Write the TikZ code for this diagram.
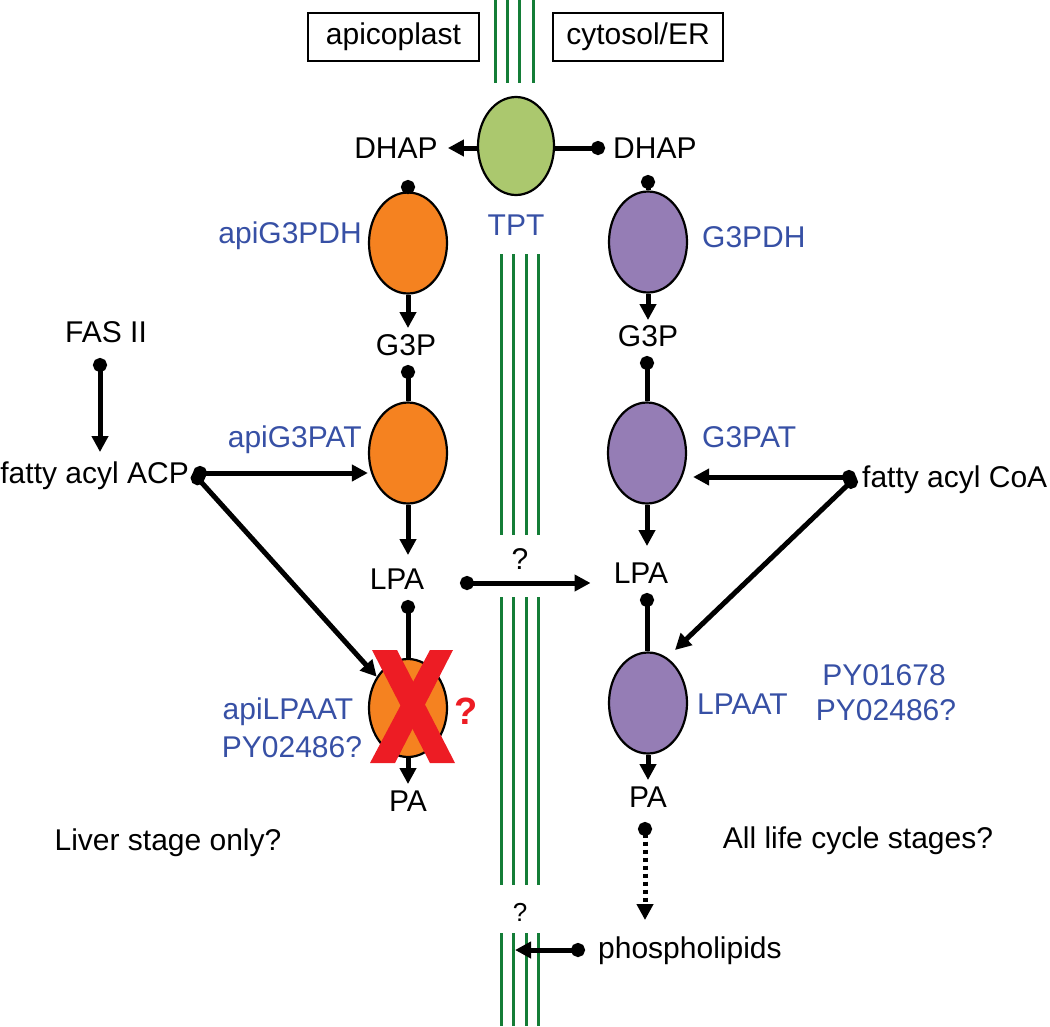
\documentclass[tikz,border=0pt]{standalone}
\usepackage{fontspec}
\setmainfont{Liberation Sans}
\usetikzlibrary{arrows.meta,shapes.geometric}
\definecolor{enzorange}{RGB}{245,130,32}
\definecolor{enzpurple}{RGB}{149,125,181}
\definecolor{tptgreen}{RGB}{171,200,110}
\definecolor{lblue}{RGB}{55,80,165}
\definecolor{mgreen}{RGB}{20,125,55}
\definecolor{xred}{RGB}{237,28,36}
\begin{document}
\begin{tikzpicture}[x=1pt,y=-1pt,
  lbl/.style={font=\fontsize{30}{34}\selectfont, inner sep=0pt, text height=21.5pt, text depth=0pt},
  blbl/.style={lbl, text=lblue},
  region/.style={draw, line width=1.8pt, font=\fontsize{30}{34}\selectfont, inner sep=0pt, minimum height=48pt, text height=21.5pt, text depth=6pt},
  enz/.style={ellipse, draw, line width=2.2pt, inner sep=0pt, minimum width=78pt, minimum height=101pt},
  memb/.style={draw=mgreen, line width=3pt},
  arr/.style={line width=5pt, -{Triangle[length=16pt,width=16pt]}},
  stem/.style={line width=5pt, {Circle[length=14pt]}-},
  darr/.style={line width=5pt, {Circle[length=14pt]}-{Triangle[length=16pt,width=16pt]}}
]
\useasboundingbox (0,0) rectangle (1050,1026);

% membranes
\foreach \x in {495,507,519,533} \draw[memb] (\x,0) -- (\x,83);
\foreach \x in {501,513,526,538} {
  \draw[memb] (\x,254) -- (\x,535);
  \draw[memb] (\x,597) -- (\x,885);
  \draw[memb] (\x,933) -- (\x,1026);
}

% compartment boxes
\node[region, minimum width=171pt] (apico) at (393.5,37) {apicoplast};
\node[region, minimum width=170pt] (cyto) at (638,37) {cytosol/ER};

% transporter
\node[enz, fill=tptgreen, minimum width=76pt, minimum height=98pt] (tpt) at (516,146) {};
\node[blbl] (tptl) at (516,225) {TPT};
\node[lbl] (dhapL) at (396,148) {DHAP};
\node[lbl, anchor=west] (dhapR) at (613,148) {DHAP};
\coordinate (dhapRdot) at (605,148);

% left (apicoplast) column
\node[enz, fill=enzorange] (e1) at (408,243) {};
\node[blbl, anchor=east] (l1) at (362,233) {apiG3PDH};
\coordinate (c1) at (408,180);
\node[lbl] (g3pL) at (406,345) {G3P};
\coordinate (c2) at (408,365);
\node[enz, fill=enzorange] (e2) at (408,453) {};
\node[blbl, anchor=east] (l2) at (362,437) {apiG3PAT};
\node[lbl] (lpaL) at (397,579) {LPA};
\coordinate (c3) at (408,600);
\node[enz, fill=enzorange, minimum height=98pt] (e3) at (408,708) {};
\node[lbl] (paL) at (408,801) {PA};
\node[blbl] (l3) at (288,709) {apiLPAAT};
\node[blbl] (l4) at (292,747) {PY02486?};

\node[lbl, anchor=east] (acp) at (189,473) {fatty acyl ACP};
\coordinate (acpdot) at (193,473);
\node[lbl] (fas) at (106,332) {FAS II};
\coordinate (fasdot) at (100,358);

% right (cytosol) column
\node[enz, fill=enzpurple] (e4) at (648,242) {};
\coordinate (c4) at (648,175);
\node[blbl, anchor=west] (r1) at (702,237) {G3PDH};
\node[lbl] (g3pR) at (648,336) {G3P};
\coordinate (c5) at (647,356);
\node[enz, fill=enzpurple] (e5) at (647,453) {};
\node[blbl, anchor=west] (r2) at (702,437) {G3PAT};
\node[lbl] (lpaR) at (641,573) {LPA};
\coordinate (c6) at (647,593);
\node[enz, fill=enzpurple] (e6) at (648,703) {};
\node[blbl, anchor=west] (r3) at (697,704) {LPAAT};
\node[blbl] (r4) at (884,675) {PY01678};
\node[blbl] (r5) at (886,710) {PY02486?};
\node[lbl] (paR) at (648,797) {PA};

\node[lbl, anchor=west] (coa) at (862,477) {fatty acyl CoA};
\coordinate (coadot) at (856,477);
\coordinate (coatip) at (675,650);

\coordinate (lpadot) at (460,583);
\node[lbl] (q1) at (520,559) {?};

\node[lbl, anchor=west] (phos) at (598,948) {phospholipids};
\coordinate (padot) at (645,822);
\coordinate (phdot) at (585,950);
\coordinate (memtip) at (515,950);
\node[lbl, font=\fontsize{26}{30}\selectfont] (q2) at (520,911) {?};

\node[lbl] (liver) at (168,840) {Liver stage only?};
\node[lbl] (allst) at (858,838) {All life cycle stages?};

% connectors
\draw[arr] (tpt.west |- dhapL.east) -- ([xshift=10pt]dhapL.east);
\draw[stem] (dhapRdot) -- (tpt.east |- dhapRdot);

\draw[stem] (c1) -- (e1.north);
\draw[arr] (e1.south) -- ([yshift=6pt]e1.south |- g3pL.north);
\draw[stem] (c2) -- (e2.north);
\draw[arr] (e2.south) -- ([yshift=13pt]e2.south |- lpaL.north);
\draw[stem] (c3) -- (e3.north);
\draw[arr] (e3.south) -- ([yshift=6pt]paL.north);

\draw[darr] (fasdot) -- ([yshift=10pt]fasdot |- acp.north);
\draw[darr] (acpdot) -- (e2.west |- acpdot);
\draw[darr] (acpdot) -- (e3.135);

\draw[stem] (c4) -- (e4.north);
\draw[arr] (e4.south) -- ([yshift=5pt]e4.south |- g3pR.north);
\draw[stem] (c5) -- (e5.north);
\draw[arr] (e5.south) -- ([yshift=16pt]e5.south |- lpaR.north);
\draw[stem] (c6) -- (c6 |- e6.north);
\draw[arr] (e6.south) -- ([yshift=6pt]e6.south |- paR.north);

\draw[darr] (coadot) -- ([xshift=6pt]e5.east |- coadot);
\draw[darr] (coadot) -- (coatip);

\draw[darr] (lpadot) -- ([xshift=-23pt]lpaR.west |- lpadot);

\draw[darr, dash pattern=on 4pt off 4pt] (padot) -- ([yshift=17pt]padot |- phos.north);
\draw[darr] (phdot) -- (memtip);

% knock-out mark
\fill[xred] (372,650) -- (397,650) -- (455,763) -- (430,763) -- cycle;
\fill[xred] (430,650) -- (453,650) -- (395,763) -- (370,763) -- cycle;
\node[font=\fontsize{38}{40}\selectfont\bfseries, text=xred, inner sep=0pt] (qr) at (466,711) {?};
\end{tikzpicture}
\end{document}
